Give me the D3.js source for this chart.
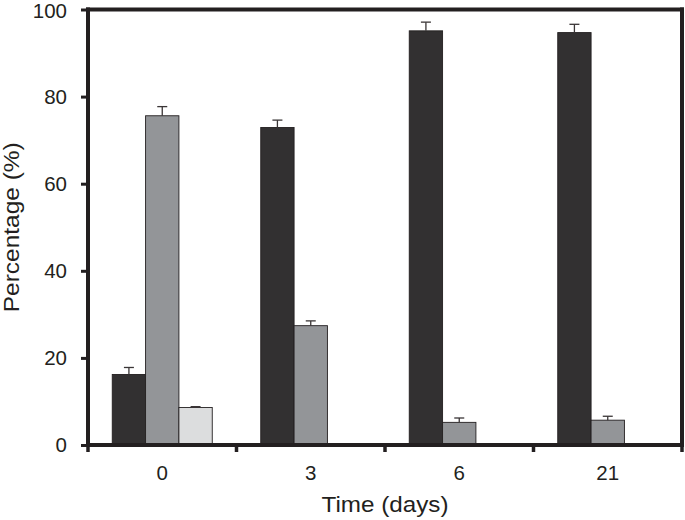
<!DOCTYPE html>
<html>
<head>
<meta charset="utf-8">
<script src="https://cdn.jsdelivr.net/npm/d3@7"></script>
<style>
  body { margin: 0; background: #fff; }
  text { font-family: Arial, "Liberation Sans", Helvetica, sans-serif; fill: #231f20; }
</style>
</head>
<body>
<div id="chart"></div>
<script>
// Data
const days = ["0", "3", "6", "21"];
const series = ["a", "b", "c"];
const darkValues = [16.2, 72.9, 95.1, 94.7];
const darkErrors = [1.6, 1.7, 2.0, 1.9];
const grayValues = [75.6, 27.4, 5.2, 5.7];
const grayErrors = [2.1, 1.1, 1.0, 0.9];
const lightValues = [8.6, null, null, null];
const lightErrors = [0.2, null, null, null];
const yTicks = [0, 20, 40, 60, 80, 100];

const colors = { a: "#323031", b: "#939598", c: "#dcddde" };

const svgWidth = 685;
const svgHeight = 520;
const margin = { top: 9.5, right: 3, bottom: 75, left: 88 };
const width = svgWidth - margin.left - margin.right;
const height = svgHeight - margin.top - margin.bottom;

const svg = d3.select("#chart")
  .append("svg")
  .attr("width", svgWidth)
  .attr("height", svgHeight);

const chartGroup = svg.append("g")
  .attr("transform", `translate(${margin.left}, ${margin.top})`);

// Build rows for drawing
const valuesBySeries = { a: darkValues, b: grayValues, c: lightValues };
const errorsBySeries = { a: darkErrors, b: grayErrors, c: lightErrors };
const rows = [];
days.forEach((d, i) => {
  series.forEach(s => {
    if (valuesBySeries[s][i] != null) {
      rows.push({ day: d, series: s, value: valuesBySeries[s][i], err: errorsBySeries[s][i] });
    }
  });
});

// Scales
const x0 = d3.scaleBand().domain(days).range([0, width]).padding(0);
const x1 = d3.scaleBand().domain(series).range([0, x0.bandwidth()])
  .paddingInner(0).paddingOuter(0.7275);
const y = d3.scaleLinear().domain([0, 100]).range([height, 0]);

// Bars
chartGroup.selectAll("rect.bar")
  .data(rows)
  .enter()
  .append("rect")
  .classed("bar", true)
  .attr("x", d => x0(d.day) + x1(d.series))
  .attr("y", d => y(d.value))
  .attr("width", x1.bandwidth())
  .attr("height", d => y(0) - y(d.value))
  .attr("fill", d => colors[d.series])
  .attr("stroke", "#231f20")
  .attr("stroke-width", 0.9);

// Error bars (upper only)
const errG = chartGroup.append("g")
  .attr("stroke", "#3a3536")
  .attr("stroke-width", 1.3);
rows.forEach(d => {
  const cx = x0(d.day) + x1(d.series) + x1.bandwidth() / 2;
  errG.append("line")
    .attr("x1", cx).attr("x2", cx)
    .attr("y1", y(d.value)).attr("y2", y(d.value + d.err));
  errG.append("line")
    .attr("x1", cx - 5).attr("x2", cx + 5)
    .attr("y1", y(d.value + d.err)).attr("y2", y(d.value + d.err));
});

// Frame
const frame = chartGroup.append("g")
  .attr("stroke", "#231f20")
  .attr("stroke-width", 4)
  .attr("fill", "none");
frame.append("line").attr("x1", -2).attr("x2", width + 2).attr("y1", 0).attr("y2", 0);
frame.append("line").attr("x1", 0).attr("x2", 0).attr("y1", -2).attr("y2", height);
frame.append("line").attr("x1", width).attr("x2", width).attr("y1", -2).attr("y2", height);
frame.append("line").attr("x1", -2).attr("x2", width + 2).attr("y1", height).attr("y2", height);

// Y axis ticks and labels
const leftAxis = d3.axisLeft(y).tickValues(yTicks).tickSize(7).tickPadding(14);
const yAxis = chartGroup.append("g").call(leftAxis);
yAxis.select(".domain").remove();
yAxis.selectAll(".tick line").attr("stroke", "#231f20").attr("stroke-width", 3);
yAxis.selectAll(".tick text")
  .attr("font-size", "20.5px")
  .attr("font-family", "Arial, 'Liberation Sans', sans-serif")
  .attr("fill", "#231f20")
  .attr("dy", d => d === 100 ? "0.4em" : "0.32em");

// X axis ticks at band boundaries
const bounds = days.map(d => x0(d)).concat([width]);
chartGroup.selectAll("line.xtick")
  .data(bounds)
  .enter()
  .append("line")
  .classed("xtick", true)
  .attr("x1", d => d).attr("x2", d => d)
  .attr("y1", height).attr("y2", height + 7)
  .attr("stroke", "#231f20")
  .attr("stroke-width", 3.5);

chartGroup.selectAll("text.xlabel")
  .data(days)
  .enter()
  .append("text")
  .classed("xlabel", true)
  .attr("x", d => x0(d) + x0.bandwidth() / 2)
  .attr("y", height + 35)
  .attr("text-anchor", "middle")
  .attr("font-size", "20.5px")
  .text(d => d);

// Axis titles
chartGroup.append("text")
  .attr("x", width / 2)
  .attr("y", height + 67)
  .attr("text-anchor", "middle")
  .attr("font-size", "22px")
  .attr("textLength", 127)
  .attr("lengthAdjust", "spacingAndGlyphs")
  .text("Time (days)");

chartGroup.append("text")
  .attr("transform", "rotate(-90)")
  .attr("x", -height / 2)
  .attr("y", -margin.left + 19)
  .attr("text-anchor", "middle")
  .attr("font-size", "22px")
  .attr("textLength", 170)
  .attr("lengthAdjust", "spacingAndGlyphs")
  .text("Percentage (%)");
</script>
</body>
</html>
